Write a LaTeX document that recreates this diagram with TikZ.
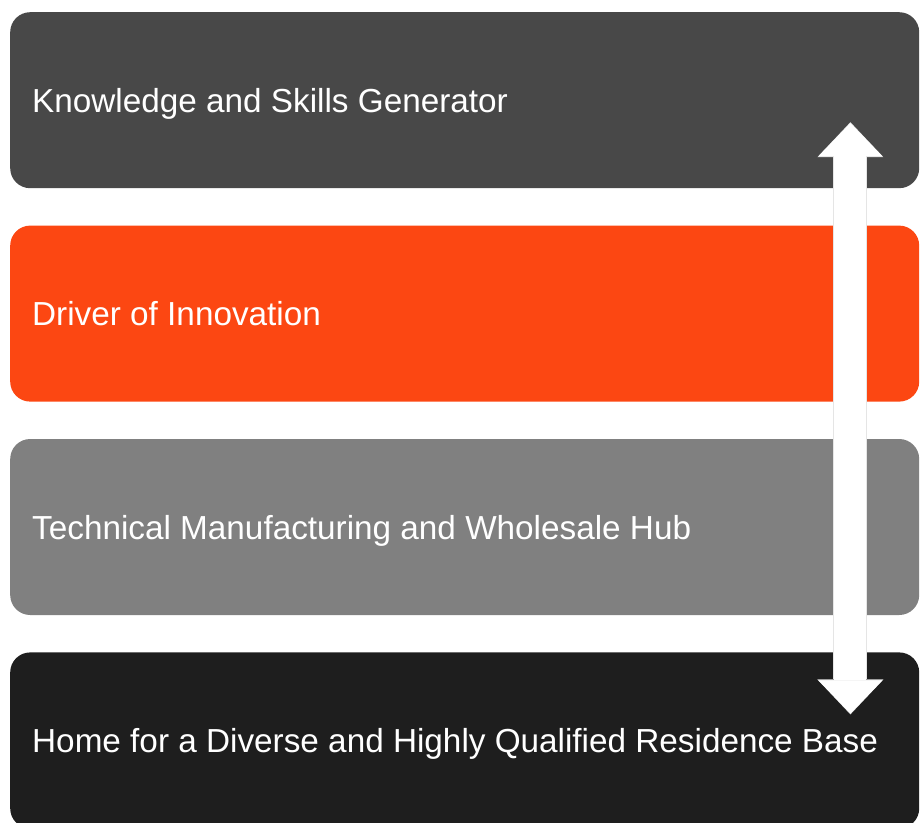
\documentclass[tikz,border=0pt]{standalone}
\usepackage{fontspec}
\setmainfont{Liberation Sans}
\usepackage{xcolor}
\usepackage{tikz}
\usetikzlibrary{arrows.meta,positioning}

\definecolor{darkgray}{HTML}{484848}
\definecolor{innoorange}{HTML}{FC4712}
\definecolor{midgray}{HTML}{808080}
\definecolor{nearblack}{HTML}{1E1E1E}

\begin{document}
\begin{tikzpicture}[
        font=\fontsize{33.3}{40}\selectfont,
        node distance=37pt,
        layer/.style={rectangle,rounded corners=20pt,minimum width=909pt,minimum height=176pt,text width=865pt,inner xsep=22pt,inner ysep=0pt,text height=24pt,text depth=0pt,align=left,text=white,execute at begin node={\spaceskip=0pt\xspaceskip=0pt}},
        knowledge/.style={layer,fill=darkgray},
        innovation/.style={layer,fill=innoorange},
        hub/.style={layer,fill=midgray},
        residence/.style={layer,fill=nearblack},
        bigarrow/.style={line width=32pt,{Triangle[width=64pt,length=33pt,line width=0pt]}-{Triangle[width=64pt,length=33pt,line width=0pt]}}
    ]
        \path[use as bounding box,clip] (0,0) rectangle (921pt,-822pt);

        \node[knowledge,anchor=north west] (gen) at (10pt,-12pt) {Knowledge and Skills Generator};
        \node[innovation,below=of gen] (drv) {Driver of Innovation};
        \node[hub,below=of drv] (tech) {Technical Manufacturing and Wholesale Hub};
        \node[residence,below=of tech] (home) {Home for a Diverse and Highly Qualified Residence Base};

        \coordinate (uptip) at ([xshift=-69pt,yshift=-23pt]gen.east);
        \coordinate (downtip) at ([xshift=-69pt,yshift=27pt]home.east);
        \draw[bigarrow,black!10,line width=34pt,{Triangle[width=66pt,length=35pt,line width=0pt]}-{Triangle[width=66pt,length=35pt,line width=0pt]}] ([yshift=1pt]uptip) -- ([yshift=-1pt]downtip);
        \draw[bigarrow,white] (uptip) -- (downtip);
    \end{tikzpicture}
\end{document}
